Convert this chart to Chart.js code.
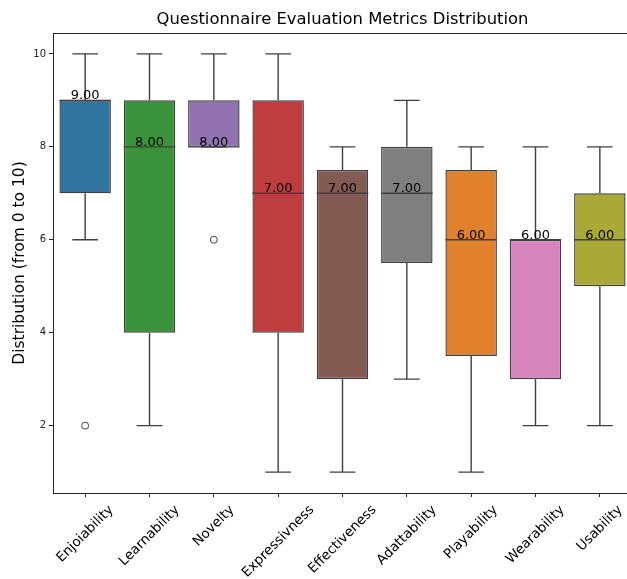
<!DOCTYPE html>
<html>
<head>
<meta charset="utf-8">
<script src="https://cdn.jsdelivr.net/npm/chart.js@4/dist/chart.umd.min.js"></script>
<style>
  html, body { margin: 0; padding: 0; background: #fff; overflow: hidden; }
  #wrap { width: 627px; height: 579px; overflow: hidden; }
</style>
</head>
<body>
<div id="wrap"><canvas id="chart" width="660" height="579"></canvas></div>
<script>
// box plot data
const categories = ['Enjoiability', 'Learnability', 'Novelty', 'Expressivness', 'Effectiveness', 'Adattability', 'Playability', 'Wearability', 'Usability'];
const whiskerLow = [6, 2, 8, 1, 1, 3, 1, 2, 2];
const q1 = [7, 4, 8, 4, 3, 5.5, 3.5, 3, 5];
const medians = [9, 8, 8, 7, 7, 7, 6, 6, 6];
const q3 = [9, 9, 9, 9, 7.5, 8, 7.5, 6, 7];
const whiskerHigh = [10, 10, 10, 10, 8, 9, 8, 8, 8];
const outliers = [2, null, 6, null, null, null, null, null, null];
const yTicks = [2, 4, 6, 8, 10];
const colors = ['#3274a1', '#3a923a', '#9372b2', '#c03d3e', '#845b53', '#7f7f7f', '#e1812c', '#d684bd', '#a9aa35'];

const chartTitle = 'Questionnaire Evaluation Metrics Distribution';
const lineColor = '#3f3f3f';
const font = 'DejaVu Sans';

// whiskers + caps behind the boxes, medians and labels on top
const boxPlugin = {
    id: 'boxExtras',
    beforeDatasetsDraw(chart) {
        const ctx = chart.ctx;
        const x = chart.scales.x, y = chart.scales.y;
        const half = x.width / categories.length * 0.8 * 0.25;
        ctx.save();
        ctx.strokeStyle = lineColor;
        ctx.lineWidth = 1.4;
        categories.forEach((c, i) => {
            const px = x.getPixelForValue(i);
            [[whiskerLow[i], q1[i]], [whiskerHigh[i], q3[i]]].forEach(([end, edge]) => {
                const ye = y.getPixelForValue(end), yb = y.getPixelForValue(edge);
                ctx.beginPath();
                ctx.moveTo(px, yb);
                ctx.lineTo(px, ye);
                ctx.moveTo(px - half, ye);
                ctx.lineTo(px + half, ye);
                ctx.stroke();
            });
        });
        ctx.restore();
    },
    afterDatasetsDraw(chart) {
        const ctx = chart.ctx;
        const x = chart.scales.x, y = chart.scales.y;
        const half = x.width / categories.length * 0.8 * 0.5;
        ctx.save();
        ctx.strokeStyle = lineColor;
        ctx.lineWidth = 1.4;
        ctx.fillStyle = '#000';
        ctx.font = '13px "' + font + '"';
        ctx.textAlign = 'center';
        ctx.textBaseline = 'alphabetic';
        categories.forEach((c, i) => {
            const px = x.getPixelForValue(i);
            const py = y.getPixelForValue(medians[i]);
            ctx.beginPath();
            ctx.moveTo(px - half, py);
            ctx.lineTo(px + half, py);
            ctx.stroke();
            ctx.fillText(medians[i].toFixed(2), px, py - 1);
        });
        ctx.restore();
    },
    afterDraw(chart) {
        const ctx = chart.ctx;
        const a = chart.chartArea;
        const x = chart.scales.x;
        ctx.save();
        ctx.strokeStyle = '#222';
        ctx.lineWidth = 1;
        ctx.strokeRect(Math.round(a.left) + 0.5, Math.round(a.top) + 0.5, a.right - a.left, a.bottom - a.top);
        // title centred over the axes
        ctx.fillStyle = '#000';
        ctx.font = '16.4px "' + font + '"';
        ctx.textAlign = 'center';
        ctx.textBaseline = 'middle';
        ctx.fillText(chartTitle, (a.left + a.right) / 2, 20);
        // x tick labels rotated 45 deg, centred on the tick like matplotlib
        ctx.font = '13.5px "' + font + '"';
        const top = a.bottom + 10;
        const h = 13.5;
        categories.forEach((c, i) => {
            const w = ctx.measureText(c).width;
            const px = x.getPixelForValue(i);
            const cy = top + (w + h) * Math.SQRT1_2 / 2;
            ctx.save();
            ctx.translate(px, cy);
            ctx.rotate(-Math.PI / 4);
            ctx.fillText(c, 0, 0);
            ctx.restore();
        });
        ctx.restore();
    }
};

new Chart(document.getElementById('chart').getContext('2d'), {
    type: 'bar',
    data: {
        labels: categories,
        datasets: [{
            data: categories.map((c, i) => [q1[i], q3[i]]),
            backgroundColor: colors,
            borderColor: lineColor,
            borderWidth: 1.4,
            borderSkipped: false,
            barPercentage: 0.8,
            categoryPercentage: 1.0
        }, {
            type: 'line',
            data: outliers,
            showLine: false,
            pointRadius: 3.5,
            pointBackgroundColor: 'rgba(0,0,0,0)',
            pointBorderColor: lineColor,
            pointBorderWidth: 1
        }]
    },
    options: {
        responsive: false,
        animation: false,
        layout: { padding: { left: 0, right: 28, top: 33, bottom: 0 } },
        plugins: {
            legend: { display: false },
            tooltip: { enabled: false },
            title: { display: false }
        },
        scales: {
            x: {
                offset: true,
                grid: { display: true, drawOnChartArea: false, offset: false, tickLength: 4, color: '#222' },
                border: { display: false },
                ticks: { display: false },
                afterFit(scale) { scale.height = 86; }
            },
            y: {
                min: 0.55,
                max: 10.45,
                afterBuildTicks(scale) { scale.ticks = yTicks.map(v => ({ value: v })); },
                grid: { display: true, drawOnChartArea: false, tickLength: 4, color: '#222' },
                border: { display: false },
                ticks: { color: '#222', font: { family: font, size: 10 }, padding: 3 },
                title: {
                    display: true,
                    text: 'Distribution (from 0 to 10)',
                    color: '#000',
                    font: { family: font, size: 15.5 },
                    padding: { top: 11, bottom: 0 }
                },
                afterFit(scale) { scale.width = 53; }
            }
        }
    },
    plugins: [boxPlugin]
});
</script>
</body>
</html>
